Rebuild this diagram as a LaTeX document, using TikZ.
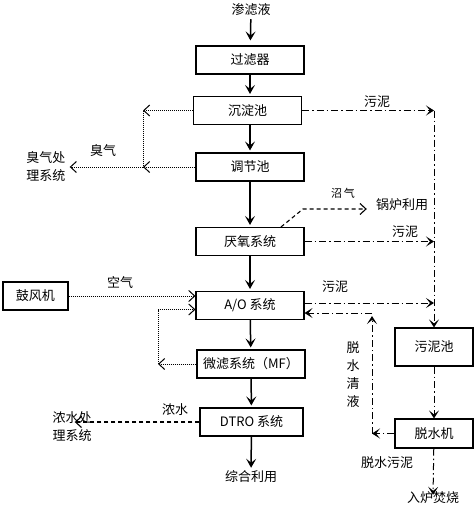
\documentclass[tikz,border=0pt]{standalone}
\usepackage{fontspec}
\newfontfamily\cjk{Noto Sans CJK SC}
\usetikzlibrary{arrows.meta}

\begin{document}
\begin{tikzpicture}[x=1pt,y=1pt]
		\tikzstyle{every node}+=[inner sep=0pt, font=\cjk\fontsize{13}{18}\selectfont]
		\tikzstyle{box}=[draw, line width=1.1pt, minimum width=108pt, minimum height=28pt]
		\tikzstyle{flow}=[line width=1.5pt, -{Stealth[length=9pt,width=10pt,inset=4pt]}, shorten >=2pt]
		\tikzstyle{ddline}=[line width=1pt, dash pattern=on 7pt off 3pt on 1.5pt off 3pt, -{Stealth[length=8pt,width=10pt,inset=4pt]}]
		\tikzstyle{dotline}=[line width=1pt, dash pattern=on 1pt off 1pt, -{Straight Barb[length=6pt,width=11pt,line width=1pt]}]
		\tikzstyle{dashline}=[line width=1.1pt, dash pattern=on 4pt off 3pt, -{Straight Barb[length=6pt,width=11pt,line width=1.1pt]}]
		\useasboundingbox (0,0) rectangle (474,-506);
		% main line
		\node (sll) at (251,-10) {渗滤液};
		\node [box] (glq) at (250,-60) {过滤器};
		\node [box] (cdc) at (247.5,-110.5) {沉淀池};
		\node [box] (tjc) at (250,-167) {调节池};
		\node [box] (yy) at (250,-241.5) {厌氧系统};
		\node [box] (ao) at (250,-305.5) {A/O 系统};
		\node [box] (mf) at (251,-364) {微滤系统（MF）};
		\node [box, minimum width=103pt] (dtro) at (251.5,-422) {DTRO 系统};
		\node (zh) at (251,-477) {综合利用};
		\draw [flow, shorten <=3pt, shorten >=5pt] (sll) -- (glq);
		\draw [flow] (glq.south) -- (glq.south |- cdc.north);
		\draw [flow] (tjc.north |- cdc.south) -- (tjc.north);
		\draw [flow] (tjc) -- (yy);
		\draw [flow] (yy) -- (ao);
		\draw [flow] (ao) -- (mf);
		\draw [flow] (mf) -- (dtro);
		\draw [flow, shorten >=3pt] (dtro) -- (zh);
		% sludge side
		\node [box, minimum width=78pt, minimum height=38pt] (wnc) at (434,-347) {污泥池};
		\node [box, minimum width=78pt, minimum height=29pt] (tsj) at (434,-433.5) {脱水机};
		\node (rl) at (433,-498) {入炉焚烧};
		\draw [ddline] (cdc.east) -- (cdc.east -| wnc);
		\draw [ddline] (yy.east) -- (yy.east -| wnc);
		\draw [ddline] ([yshift=2.5pt]ao.east) -- ([yshift=2.5pt]ao.east -| wnc);
		\draw [ddline] (cdc.east -| wnc) -- (wnc.north);
		\draw (377,-102) node {污泥};
		\draw (405,-232) node {污泥};
		\draw (335,-287) node {污泥};
		\draw [ddline] (wnc) -- (tsj);
		\draw [ddline, shorten >=-3pt] (tsj) -- (rl);
		\draw (387,-463) node {脱水污泥};
		\coordinate (qy) at (372,-313);
		\draw [ddline] (tsj.west) -- (tsj.west -| qy);
		\draw [ddline] (tsj.west -| qy) -- ([yshift=-3pt]qy);
		\draw [ddline] (qy) -- (qy -| ao.east);
		\node [align=center] (qyl) at (353,-375) {脱\\水\\清\\液};
		% odour
		\node [align=center] (cq) at (46,-167) {臭气处\\理系统};
		\coordinate (od) at (143,-108);
		\draw [dotline] (cdc.west) -- (cdc.west -| od);
		\draw [dotline,-] (cdc.west -| od) -- (tjc.west -| od);
		\draw [dotline] (tjc.west) -- (tjc.west -| od);
		\draw [dotline] (tjc.west -| od) -- ([xshift=4pt]cq.east);
		\draw (103,-151) node {臭气};
		% biogas
		\node (gl) at (402,-205) {锅炉利用};
		\coordinate (zq) at (303,-209);
		\draw [dashline] ([xshift=31pt]yy.north) -- (zq) -- ([xshift=-9pt]zq -| gl.west);
		\draw (343,-193) node {\fontsize{11}{13}\selectfont 沼\,气};
		% air
		\node [box, minimum width=65pt] (gfj) at (35.5,-296) {鼓风机};
		\draw [dotline] (gfj.east) -- (gfj.east -| ao.west);
		\draw (120,-283) node {空气};
		\coordinate (mr) at (158,-362);
		\draw [dotline] (mf.west) -- (mf.west -| mr);
		\draw [dotline] (mf.west -| mr) |- ([yshift=-4pt]ao.west);
		% concentrate
		\node [align=center] (ns) at (72,-426.5) {浓水处\\理系统};
		\draw [dashline] (dtro.west) -- ([xshift=-17pt]dtro.west -| ns.east);
		\draw (175,-410) node {浓水};
\end{tikzpicture}
\end{document}
